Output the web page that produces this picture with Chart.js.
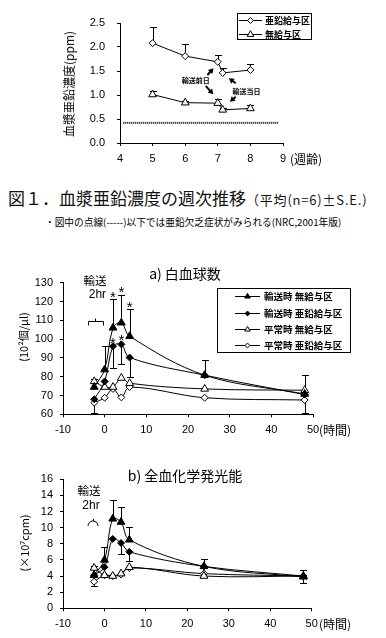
<!DOCTYPE html>
<html><head><meta charset="utf-8">
<script src="https://cdn.jsdelivr.net/npm/chart.js@4.4.1/dist/chart.umd.min.js"></script>
<style>
html,body{margin:0;padding:0;background:#fff;}
#root{position:relative;width:386px;height:638px;overflow:hidden;font-family:"Noto Sans CJK JP","Noto Sans",sans-serif;color:#000;}
.t{position:absolute;white-space:nowrap;line-height:1;}
.c{transform:translate(-50%,-50%);}
.l{transform:translate(0,-50%);}
.r{transform:translate(-50%,-50%) rotate(-90deg);}
canvas{position:absolute;left:0;}
</style></head>
<body><div id="root">
<canvas id="c1" width="386" height="175" style="top:0px"></canvas>
<canvas id="c2" width="386" height="190" style="top:255px"></canvas>
<canvas id="c3" width="386" height="190" style="top:448px"></canvas>
<div class="t r" style="left:69px;top:84px;font-size:12px;">血漿亜鉛濃度(ppm)</div>
<div class="t l" style="left:290px;top:159px;font-size:12px;">(週齢)</div>
<div class="t l" style="left:8px;top:197px;font-size:17px;color:#111;">図１．血漿亜鉛濃度の週次推移<span style="font-size:13px;letter-spacing:0.8px;">（平均(n=6)±S.E.)</span></div>
<div class="t l" style="left:45px;top:223px;font-size:9.7px;">・図中の点線(-----)以下では亜鉛欠乏症状がみられる(NRC,2001年版)</div>
<div class="t c" style="left:185px;top:273px;font-size:14px;">a) 白血球数</div>
<div class="t r" style="left:23px;top:337px;font-size:11px;">(10²個/μl)</div>
<div class="t l" style="left:319px;top:430px;font-size:12px;">(時間)</div>
<div class="t c" style="left:185px;top:475px;font-size:14px;">b) 全血化学発光能</div>
<div class="t r" style="left:24px;top:543px;font-size:11px;">(×10⁷cpm)</div>
<div class="t l" style="left:319px;top:624px;font-size:12px;">(時間)</div>
</div>
<script>
// ---------------- DATA ----------------
// Fig.1 plasma zinc (ppm) by age in weeks
const ZN_WEEKS = [5, 6, 7, 7.15, 8];
const ZN_FED = [2.08, 1.81, 1.69, 1.46, 1.52];
const ZN_FED_SE = [0.33, 0.25, 0.15, 0.10, 0.13];
const ZN_NONE = [1.01, 0.84, 0.83, 0.69, 0.72];
const ZN_NONE_SE = [0.08, 0.03, 0.09, 0.03, 0.07];
const ZN_DEFICIENCY = 0.42;
const ZN_LINE_FROM = 4.1, ZN_LINE_TO = 8.85;
const ZN_LABELS = ['亜鉛給与区', '無給与区'];
const ZN_X_TICKS = [4, 5, 6, 7, 8, 9];
const ZN_Y_TICKS = [0, 0.5, 1.0, 1.5, 2.0, 2.5];

// hours after transport
const HOURS = [-2.5, 0, 2, 4, 6, 24, 48];
const SERIES_LABELS = ['輸送時 無給与区', '輸送時 亜鉛給与区', '平常時 無給与区', '平常時 亜鉛給与区'];
const H_X_TICKS = [-10, 0, 10, 20, 30, 40, 50];

// a) white blood cells (10^2 /μl)
const WBC_TRN_NONE = [74.5, 83.8, 106, 108.7, 101.5, 80.8, 70.8];
const WBC_TRN_NONE_SE_UP = [4.5, 12.4, 15.5, 15, 14.3, 8.1, 10];
const WBC_TRN_ZN = [68, 77.5, 96.2, 97.2, 90.2, 80.8, 70.5];
const WBC_TRN_ZN_SE_DN = [null, null, 11.7, 10.6, 10.2, null, null];
const WBC_NRM_NONE = [77.5, 74.5, 74.5, 79.3, 76.5, 73.5, 72.8];
const WBC_NRM_ZN = [66.2, 68.8, 73.5, 69, 74.5, 68.8, 67.6];
const WBC_NRM_ZN_SE_DN = [5.5, null, null, null, null, null, 6.9];
const WBC_Y_TICKS = [60, 70, 80, 90, 100, 110, 120, 130];
const WBC_STARS_X = [2, 4, 6, 2, 4];
const WBC_STARS_Y = [124.4, 127, 119, 100, 101.6];

// b) whole blood chemiluminescence (x10^7 cpm)
const CL_TRN_NONE = [4.1, 6.0, 11.1, 10.7, 8.5, 5.2, 3.9];
const CL_TRN_NONE_SE_UP = [1.1, 1.6, 2.3, 1.9, 1.6, 0.9, 0.8];
const CL_TRN_ZN = [4.1, 5.1, 8.6, 8.1, 7.0, 5.2, 4.0];
const CL_TRN_ZN_SE_DN = [null, null, null, 1.4, 1.1, null, null];
const CL_NRM_NONE = [5.0, 4.1, 4.0, 4.3, 5.1, 4.0, 4.0];
const CL_NRM_ZN = [3.3, 4.1, 4.0, 4.2, 5.0, 4.3, 4.0];
const CL_NRM_ZN_SE_DN = [0.5, null, null, null, null, null, 0.9];
const CL_Y_TICKS = [0, 2, 4, 6, 8, 10, 12, 14, 16];

// ---------------- DRAWING ----------------
const NUMFONT = '"Liberation Sans", Arial, sans-serif';
const CJK = '"Noto Sans CJK JP", sans-serif';
function seg(ctx,x1,y1,x2,y2){ctx.beginPath();ctx.moveTo(x1,y1);ctx.lineTo(x2,y2);ctx.stroke();}

const extras = {
  id:'extras',
  beforeDatasetsDraw(chart){
    const ctx=chart.ctx, xs=chart.scales.x, ys=chart.scales.y;
    ctx.save(); ctx.strokeStyle='#000'; ctx.lineWidth=1;
    chart.data.datasets.forEach(ds=>{
      ds.data.forEach((p,j)=>{
        [['errUp',1],['errDown',-1]].forEach(([k,s])=>{
          const e = ds[k] ? ds[k][j] : null;
          if(e==null) return;
          const px=Math.round(xs.getPixelForValue(p.x))+0.5;
          const y0=ys.getPixelForValue(p.y), y1=Math.round(ys.getPixelForValue(p.y+s*e))+0.5;
          seg(ctx,px,y0,px,y1); seg(ctx,px-3.5,y1,px+3.5,y1);
        });
      });
    });
    ctx.restore();
  },
  afterDatasetsDraw(chart,args,o){
    const ctx=chart.ctx, xs=chart.scales.x, ys=chart.scales.y;
    const X=v=>xs.getPixelForValue(v), Y=v=>ys.getPixelForValue(v);
    ctx.save();
    ctx.fillStyle='#000'; ctx.strokeStyle='#000';
    (o.texts||[]).forEach(t=>{ctx.font=t.font; ctx.textAlign='center'; ctx.textBaseline='middle'; ctx.fillText(t.text,X(t.x),Y(t.y));});
    (o.stars||[]).forEach(s=>{ctx.font='15px '+NUMFONT; ctx.textAlign='center'; ctx.textBaseline='alphabetic'; ctx.fillText('*',X(s.x),Y(s.y)+8.5);});
    (o.arrows||[]).forEach(a=>{
      const x1=X(a.x1),y1=Y(a.y1),x2=X(a.x2),y2=Y(a.y2);
      const ang=Math.atan2(y2-y1,x2-x1), hl=5, hw=3;
      ctx.lineWidth=2;
      seg(ctx,x1,y1,x2-Math.cos(ang)*hl*0.6,y2-Math.sin(ang)*hl*0.6);
      ctx.beginPath();
      ctx.moveTo(x2,y2);
      ctx.lineTo(x2-Math.cos(ang)*hl+Math.sin(ang)*hw, y2-Math.sin(ang)*hl-Math.cos(ang)*hw);
      ctx.lineTo(x2-Math.cos(ang)*hl-Math.sin(ang)*hw, y2-Math.sin(ang)*hl+Math.cos(ang)*hw);
      ctx.closePath(); ctx.fill();
    });
    ctx.lineWidth=1;
    if(o.bracket){
      const b=o.bracket, yy=Math.round(Y(b.y))+0.5, xa=Math.round(X(b.x0))+0.5, xb=Math.round(X(b.x1))+0.5, xm=Math.round(X(b.xm))+0.5;
      ctx.beginPath(); ctx.moveTo(xa,yy+4); ctx.lineTo(xa,yy); ctx.lineTo(xb,yy); ctx.lineTo(xb,yy+4); ctx.stroke();
      seg(ctx,xm,yy,xm,yy-3);
    }
    if(o.arc){
      const cx=X(o.arc.x), cy=Y(o.arc.y);
      ctx.beginPath(); ctx.arc(cx,cy+2,5,Math.PI,2*Math.PI); ctx.stroke();
      seg(ctx,cx+0.5,cy-3,cx+0.5,cy-5);
    }
    if(o.legend){
      const L=o.legend;
      ctx.fillStyle='#fff'; ctx.fillRect(L.x,L.y,L.w,L.h);
      ctx.strokeStyle='#000'; ctx.lineWidth=1; ctx.strokeRect(L.x+0.5,L.y+0.5,L.w,L.h);
      const items=chart.data.datasets.filter(d=>!d.noLegend);
      items.forEach((d,i)=>{
        const ry=Math.round(L.rows[i])+0.5;
        ctx.strokeStyle='#000'; ctx.lineWidth=1;
        seg(ctx,L.lx0,ry,L.lx1,ry);
        ctx.fillStyle=d.pointBackgroundColor; ctx.strokeStyle='#000'; ctx.lineWidth=1;
        Chart.helpers.drawPoint(ctx,{pointStyle:d.pointStyle,radius:d.pointRadius*L.ms,rotation:0,borderWidth:1},(L.lx0+L.lx1)/2,ry);
        ctx.fillStyle='#000'; ctx.font=L.font; ctx.textAlign='left'; ctx.textBaseline='middle';
        ctx.fillText(d.label,L.tx,ry);
      });
    }
    ctx.restore();
  }
};

const GRID={display:true,drawOnChartArea:false,drawTicks:true,tickLength:3,color:'#000',lineWidth:1};
const BORDER={display:true,color:'#000',width:1};

function makeChart(id,cfg){
  const cv=document.getElementById(id);
  const W=cv.width, Hh=cv.height, A=cfg.area;
  return new Chart(cv,{
    type:'line',
    data:{datasets:cfg.datasets},
    options:{
      responsive:false, animation:false, devicePixelRatio:1, events:[],
      layout:{padding:{left:0,top:A.top,right:W-A.right,bottom:0}},
      plugins:{legend:{display:false},tooltip:{enabled:false},extras:cfg.extras},
      scales:{
        x:{type:'linear',min:cfg.xr[0],max:cfg.xr[1],
           afterFit:s=>{s.height=Hh-A.bottom;},
           afterBuildTicks:s=>{s.ticks=cfg.xTicks.map(v=>({value:v}));},
           grid:GRID,border:BORDER,
           ticks:{color:'#000',font:{family:NUMFONT,size:11},padding:6,maxRotation:0,autoSkip:false}},
        y:{type:'linear',min:cfg.yr[0],max:cfg.yr[1],
           afterFit:s=>{s.width=A.left;},
           afterBuildTicks:s=>{s.ticks=cfg.yTicks.map(v=>({value:v}));},
           grid:GRID,border:BORDER,
           ticks:{color:'#000',font:{family:NUMFONT,size:11},padding:cfg.yPad,autoSkip:false,callback:cfg.yFmt||(v=>String(v))}}
      }
    },
    plugins:[extras]
  });
}

function pts(xs,ys){return xs.map((x,i)=>({x:x,y:ys[i]}));}
function series(label,xs,ys,style,filled,r,extra){
  return Object.assign({label:label,data:pts(xs,ys),borderColor:'#000',borderWidth:1,
    pointStyle:style,pointRadius:r,pointBackgroundColor:filled?'#000':'#fff',pointBorderColor:'#000',pointBorderWidth:1,
    tension:0.35,fill:false},extra||{});
}

// Chart 1
makeChart('c1',{
  area:{left:120,top:23,right:283,bottom:143},
  xr:[4,9], yr:[0,2.5], xTicks:ZN_X_TICKS, yTicks:ZN_Y_TICKS, yPad:12, yFmt:v=>v.toFixed(1),
  datasets:[
    series(ZN_LABELS[0],ZN_WEEKS,ZN_FED,'rectRot',false,3.5,{errUp:ZN_FED_SE,tension:0}),
    series(ZN_LABELS[1],ZN_WEEKS,ZN_NONE,'triangle',false,4.5,{errUp:ZN_NONE_SE,tension:0}),
    {noLegend:true,data:[{x:ZN_LINE_FROM,y:ZN_DEFICIENCY},{x:ZN_LINE_TO,y:ZN_DEFICIENCY}],borderColor:'#000',borderWidth:2,borderDash:[1,1],pointRadius:0,tension:0}
  ],
  extras:{
    legend:{x:237,y:13,w:74,h:26,rows:[20,34],lx0:239,lx1:262,tx:265,font:'bold 9px '+CJK,ms:0.85},
    texts:[{x:6.32,y:1.31,text:'輸送前日',font:'bold 7px '+CJK},{x:7.88,y:1.08,text:'輸送当日',font:'bold 7px '+CJK}],
    arrows:[{x1:6.68,y1:1.417,x2:6.87,y2:1.556},{x1:6.63,y1:1.19,x2:6.86,y2:1.015},
            {x1:7.55,y1:1.244,x2:7.34,y2:1.348},{x1:7.55,y1:0.965,x2:7.37,y2:0.86}]
  }
});

// Chart 2
makeChart('c2',{
  area:{left:63,top:27.7,right:313,bottom:159.3},
  xr:[-10,50], yr:[60,130], xTicks:H_X_TICKS, yTicks:WBC_Y_TICKS, yPad:7,
  datasets:[
    series(SERIES_LABELS[0],HOURS,WBC_TRN_NONE,'triangle',true,4.5,{errUp:WBC_TRN_NONE_SE_UP}),
    series(SERIES_LABELS[1],HOURS,WBC_TRN_ZN,'rectRot',true,3.5,{errDown:WBC_TRN_ZN_SE_DN}),
    series(SERIES_LABELS[2],HOURS,WBC_NRM_NONE,'triangle',false,4.5),
    series(SERIES_LABELS[3],HOURS,WBC_NRM_ZN,'rectRot',false,3.5,{errDown:WBC_NRM_ZN_SE_DN})
  ],
  extras:{
    legend:{x:217,y:33,w:133,h:64,rows:[41,57.5,74,90],lx0:235,lx1:260,tx:264,font:'bold 9.5px '+CJK,ms:0.7},
    stars:WBC_STARS_X.map((x,i)=>({x:x,y:WBC_STARS_Y[i]})),
    texts:[{x:-2.34,y:131,text:'輸送',font:'11.5px '+CJK},{x:-1.75,y:123.5,text:'2hr',font:'12px '+NUMFONT}],
    bracket:{x0:-4.1,x1:-0.5,xm:-2.3,y:109.8}
  }
});

// Chart 3
makeChart('c3',{
  area:{left:63,top:31.3,right:311.7,bottom:160.3},
  xr:[-10,50], yr:[0,16], xTicks:H_X_TICKS, yTicks:CL_Y_TICKS, yPad:7,
  datasets:[
    series(SERIES_LABELS[0],HOURS,CL_TRN_NONE,'triangle',true,4.5,{errUp:CL_TRN_NONE_SE_UP}),
    series(SERIES_LABELS[1],HOURS,CL_TRN_ZN,'rectRot',true,3.5,{errDown:CL_TRN_ZN_SE_DN}),
    series(SERIES_LABELS[2],HOURS,CL_NRM_NONE,'triangle',false,4.5),
    series(SERIES_LABELS[3],HOURS,CL_NRM_ZN,'rectRot',false,3.5,{errDown:CL_NRM_ZN_SE_DN})
  ],
  extras:{
    texts:[{x:-3.73,y:14.55,text:'輸送',font:'11.5px '+CJK},{x:-3.25,y:12.7,text:'2hr',font:'12px '+NUMFONT}],
    arc:{x:-2.76,y:10.46}
  }
});
</script>
</body></html>
